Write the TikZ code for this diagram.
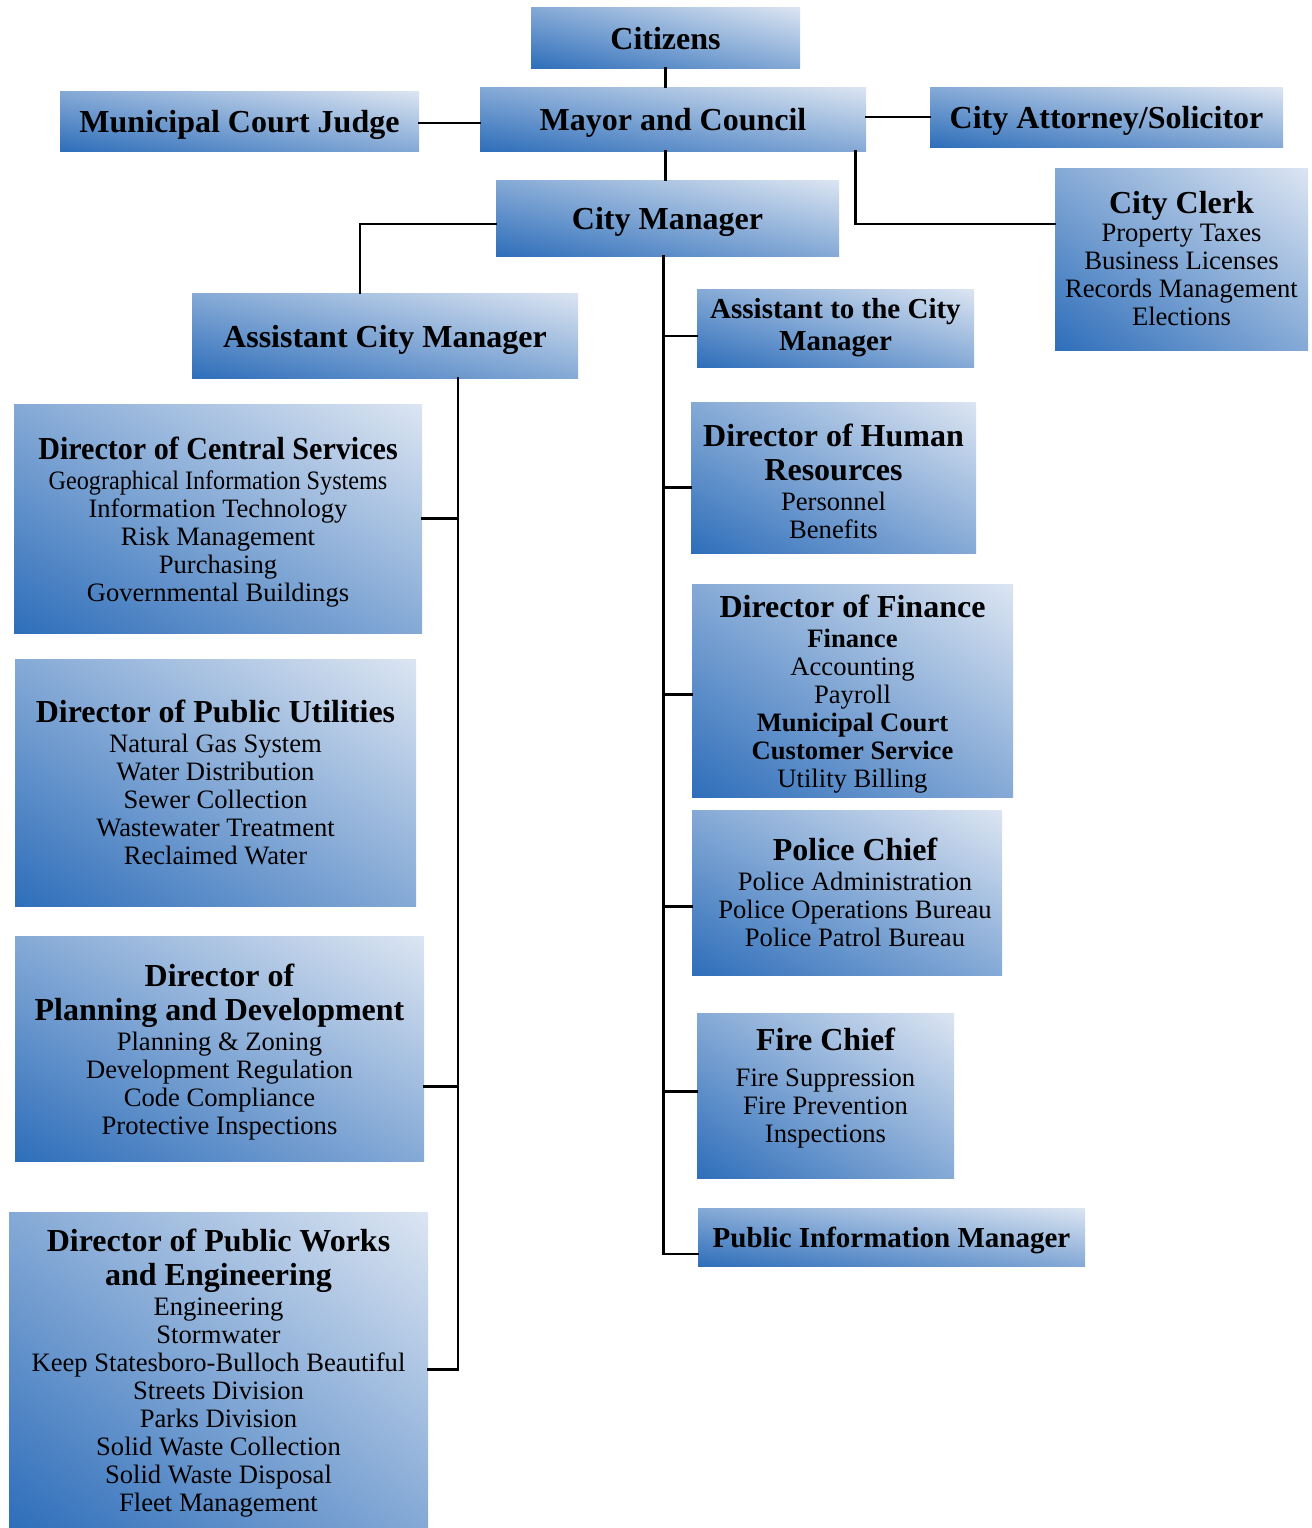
\documentclass[tikz,border=0pt]{standalone}
\usepackage{fontspec}
\setmainfont{Liberation Serif}
\usepackage{graphicx}
\usetikzlibrary{positioning,calc}
% diagonal blue shading: dark at lower left, light at upper right
\pgfdeclarefunctionalshading{orgshade}{\pgfpoint{0bp}{0bp}}{\pgfpoint{100bp}{100bp}}{}{
  add 50 sub 100 div
  dup 0 lt {pop 0} if
  dup 1 gt {pop 1} if
  dup dup
  0.682 mul 0.180 add
  3 1 roll
  0.467 mul 0.431 add
  exch
  0.220 mul 0.729 add
}
\newcommand{\hd}[1]{{\fontsize{16}{17}\selectfont\bfseries #1}}
\newcommand{\lift}{\rule{0pt}{15pt}}
\tikzset{
orgnode/.style = {shade, shading=orgshade, align = center, inner sep=0pt, font=\fontsize{13.3}{14}\selectfont},
bignode/.style = {orgnode, font=\fontsize{16}{17}\selectfont\bfseries, text height=12pt, text depth=0.5pt},
midnode/.style = {orgnode, font=\fontsize{14.5}{16}\selectfont\bfseries},
boxsize/.style 2 args = {minimum width=#1pt, minimum height=#2pt},
link/.style = {line width=1.4pt, line cap=rect},
}
\begin{document}
\begin{tikzpicture}[x=0.5pt, y=-0.5pt]
    \useasboundingbox (0,0) rectangle (1312,1528);
    % top of the chart
    \node [bignode, boxsize={134.5}{30.5}] (citizens) at (665.5,37.5) {Citizens};
    \node [bignode, boxsize={193}{32}] (mayor) at (673,119) {Mayor and Council};
    \node [bignode, boxsize={179.5}{30}] (judge) at (239.5,121) {Municipal Court Judge};
    \node [bignode, boxsize={176.5}{30}] (attorney) at (1106.5,117) {City Attorney/Solicitor};
    \node [bignode, boxsize={171.5}{38}] (cm) at (667.5,218) {City Manager};
    \node [orgnode, boxsize={126.5}{91}] (clerk) at (1181.5,259)
      {\hd{City Clerk}\\ Property Taxes\\ Business Licenses\\ Records Management\\ Elections};
    \node [bignode, boxsize={193}{42.5}] (acm) at (385,335.5) {Assistant City Manager};
    % right column
    \node [midnode, boxsize={138.5}{39}] (asstcm) at (835.5,328) {Assistant to the City\\ Manager};
    \node [orgnode, boxsize={142.5}{75.5}] (hr) at (833.5,477.5)
      {\hd{\lift Director of Human}\\[3pt] \hd{Resources}\\[1pt] Personnel\\ Benefits};
    \node [orgnode, boxsize={160.5}{106.5}] (finance) at (852.5,690.5)
      {\hd{\lift Director of Finance}\\[1pt] \textbf{Finance}\\ Accounting\\ Payroll\\ \textbf{Municipal Court}\\ \textbf{Customer Service}\\ Utility Billing};
    \node [orgnode, boxsize={155}{82.5}] (police) at (847,892.5)
      {\hspace*{8pt}\hd{Police Chief}\\[1pt] \hspace*{8pt}Police Administration\\ \hspace*{8pt}Police Operations Bureau\\ \hspace*{8pt}Police Patrol Bureau};
    \node [orgnode, boxsize={128.5}{82.5}] (fire) at (825.5,1095.5)
      {\hd{Fire Chief}\\[4pt] Fire Suppression\\ Fire Prevention\\ Inspections\\[-4pt]};
    \node [midnode, boxsize={193.5}{29}, text height=11pt, text depth=1pt] (pim) at (891.5,1237) {Public Information Manager};
    % left column
    \node [orgnode, boxsize={204}{114.5}] (central) at (218,518.5)
      {\hd{\lift\scalebox{0.94}[1]{Director of Central Services}}\\[1pt] \scalebox{0.91}[1]{Geographical Information Systems}\\ Information Technology\\ Risk Management\\ Purchasing\\ Governmental Buildings};
    \node [orgnode, boxsize={200.5}{123.5}] (utilities) at (215.5,782.5)
      {\hd{Director of Public Utilities}\\[1pt] Natural Gas System\\ Water Distribution\\ Sewer Collection\\ Wastewater Treatment\\ Reclaimed Water};
    \node [orgnode, boxsize={204.5}{112.5}] (planning) at (219.5,1048.5)
      {\hd{\lift Director of}\\[3pt] \hd{Planning and Development}\\[1pt] Planning \& Zoning\\ Development Regulation\\ Code Compliance\\ Protective Inspections};
    \node [orgnode, boxsize={209.5}{157.5}] (works) at (218.5,1369.5)
      {\hd{\lift Director of Public Works}\\[3pt] \hd{and Engineering}\\[1pt] Engineering\\ Stormwater\\ Keep Statesboro-Bulloch Beautiful\\ Streets Division\\ Parks Division\\ Solid Waste Collection\\ Solid Waste Disposal\\ Fleet Management};
    % connectors
    \coordinate (rt) at ([xshift=-2pt]cm.south);
    \coordinate (lt) at ([xshift=36.5pt]acm.south);
    \draw [link] (citizens.south) -- (citizens.south |- mayor.north);
    \draw [link] (mayor.south -| citizens.south) -- (cm.north -| citizens.south);
    \draw [link] ([yshift=-1pt]judge.east) -- ([yshift=-1pt]judge.east -| mayor.west);
    \draw [link] (attorney.west -| mayor.east) -- (attorney.west);
    \draw [link] ([xshift=-5.5pt]mayor.south east) |- ([yshift=17.5pt]clerk.west);
    \draw [link] ([yshift=-3pt]cm.west) -| ([xshift=-12.5pt]acm.north);
    \draw [link] (rt) -- ([yshift=-8.5pt]pim.west -| rt);
    \foreach \n/\dy in {asstcm/-4, hr/-5, finance/-2, police/-7, fire/2, pim/-8.5}
      \draw [link] ([yshift=\dy pt]\n.west -| rt) -- ([yshift=\dy pt]\n.west);
    \draw [link] (lt) |- (works.east);
    \foreach \n/\dy in {central/0, planning/-19}
      \draw [link] ([yshift=\dy pt]\n.east) -- ([yshift=\dy pt]\n.east -| lt);
\end{tikzpicture}
\end{document}
